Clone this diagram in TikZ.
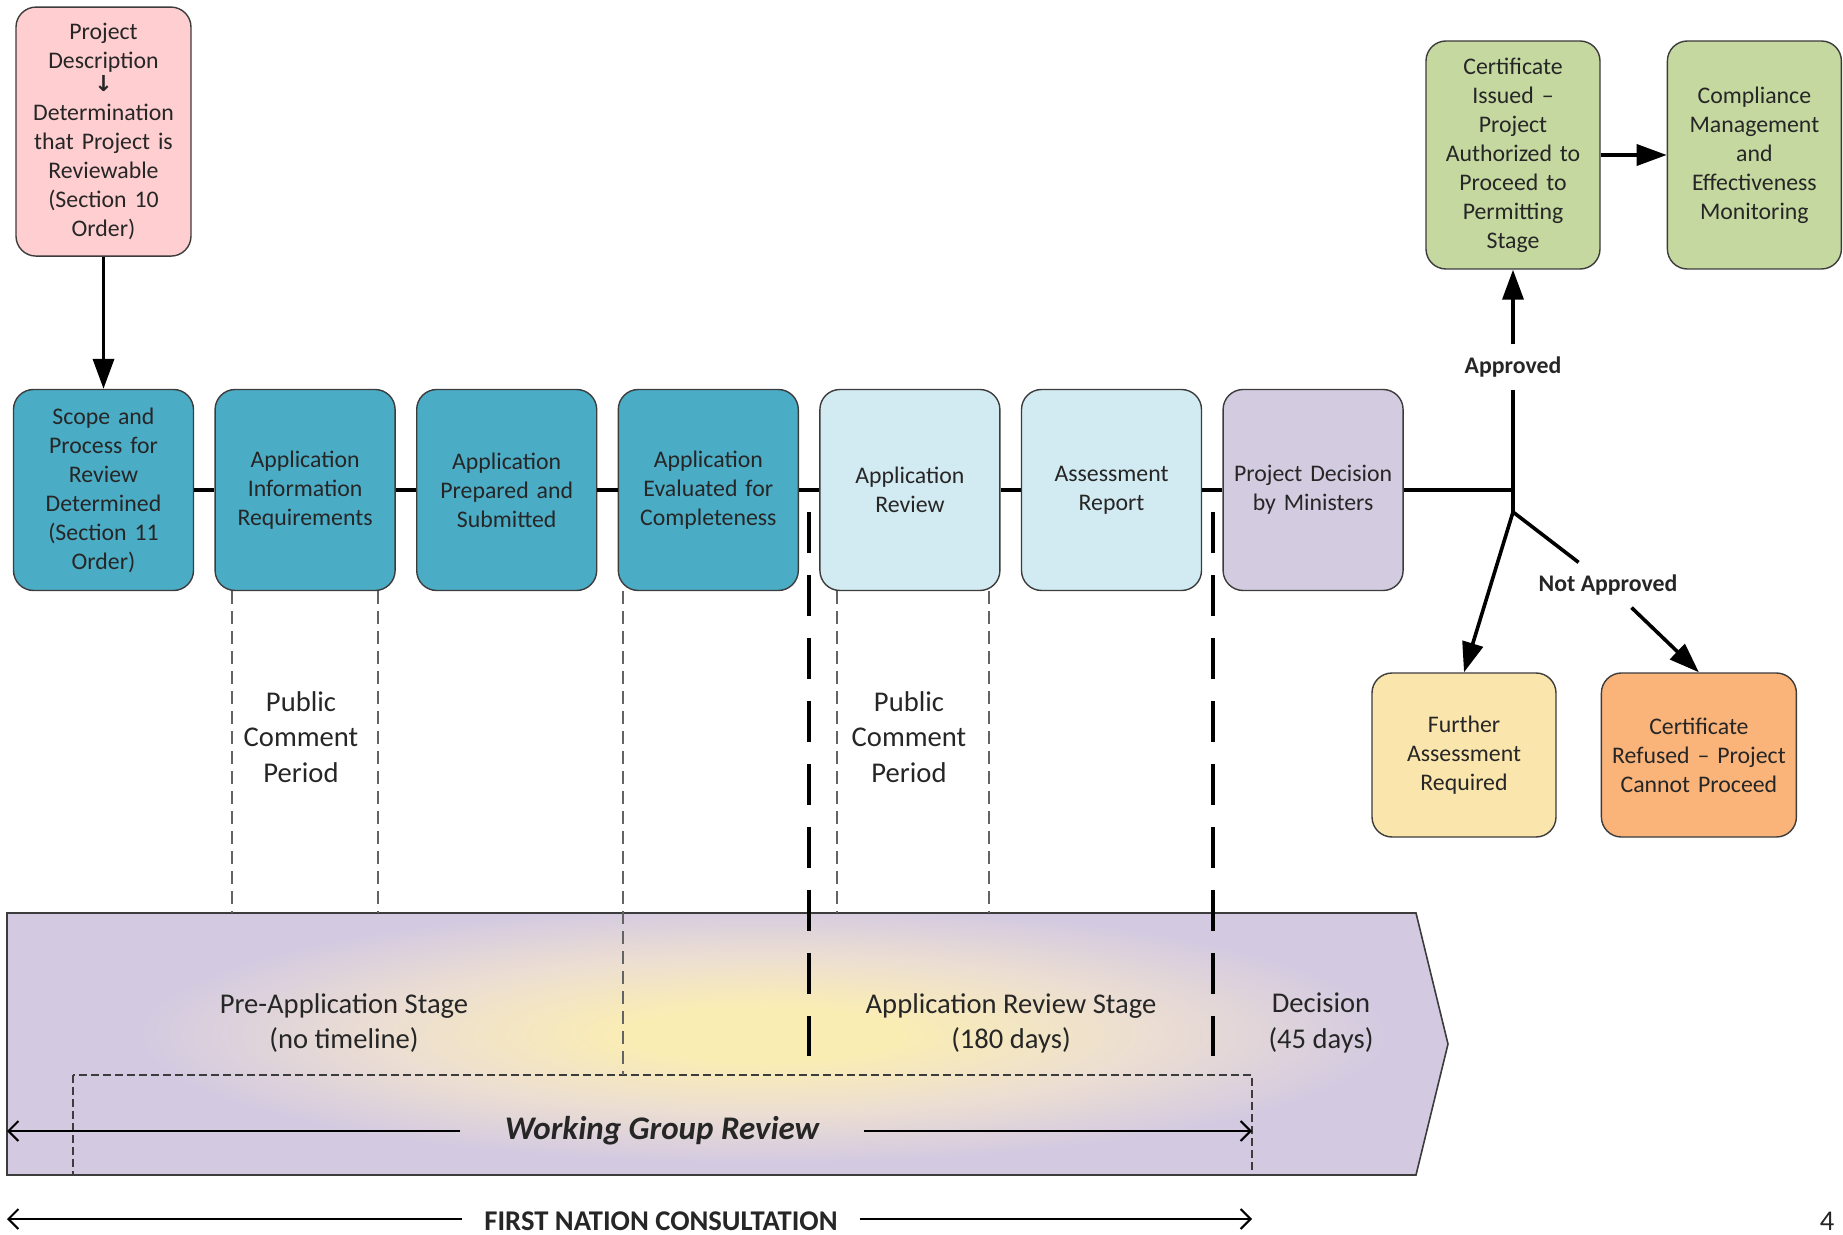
\documentclass[tikz,border=0pt]{standalone}
\usepackage{fontspec}
\setmainfont{Carlito}
\newfontfamily\arrowfont{DejaVu Sans}
\usetikzlibrary{
  arrows.meta,
  positioning
}
\definecolor{mypink}{RGB}{255,206,208}
\definecolor{myteal}{RGB}{75,172,198}
\definecolor{mylightblue}{RGB}{210,234,241}
\definecolor{mylavender}{RGB}{211,203,224}
\definecolor{mygreen}{RGB}{197,216,160}
\definecolor{myyellow}{RGB}{250,230,172}
\definecolor{myorange}{RGB}{250,180,122}
\definecolor{myband}{RGB}{211,202,225}
\definecolor{myglowcore}{RGB}{250,237,180}
\definecolor{myglowmid}{RGB}{236,222,210}
\definecolor{myline}{RGB}{60,60,60}
\definecolor{mytext}{RGB}{38,38,38}
\pgfdeclareradialshading{myglow}{\pgfpointorigin}{%
  color(0bp)=(myglowcore); color(5bp)=(myglowcore);
  color(14bp)=(myglowmid); color(23bp)=(myband); color(50bp)=(myband)}

\begin{document}
\begin{tikzpicture}[
  x=0.5pt,y=-0.5pt,
  mybox/.style={
    draw=myline,
    line width=0.7pt,
    rounded corners=10pt,
    fill=#1,
    align=center,
    text=mytext,
    font=\fontsize{11.9}{14.5}\selectfont,
    inner xsep=4pt,
    text width=82pt,
    minimum height=100.5pt
    },
  mylabel/.style={
    font=\bfseries\fontsize{11.9}{14}\selectfont,
    text=mytext,
    inner xsep=2pt,
    inner ysep=6pt
    },
  mystage/.style={
    align=center,
    text=mytext,
    font=\fontsize{14.3}{17.6}\selectfont
    },
  myconn/.style={line width=1.8pt},
  myarrow/.style={myconn,-{Triangle[length=15pt,width=10.5pt]}},
  myspan/.style={line width=1pt,-{Straight Barb[length=5pt,width=10pt]}},
  mythin/.style={draw=myline!80,line width=0.6pt,dash pattern=on 6.5pt off 3.5pt},
  mydivider/.style={line width=2pt,dash pattern=on 20.5pt off 11pt}
]
\useasboundingbox (0,0) rectangle (1843,1235);

% stage band
\begin{scope}
  \clip (7,913) -- (1416,913) -- (1448,1044) -- (1416,1175) -- (7,1175) -- cycle;
  \fill[myband] (0,900) rectangle (1460,1190);
  \shade[shading=myglow] (84,894) rectangle (1444,1174);
\end{scope}
\draw[myline,line width=0.8pt]
  (7,913) -- (1416,913) -- (1448,1044) -- (1416,1175) -- (7,1175) -- cycle;
\draw[myline,line width=0.8pt,dash pattern=on 4pt off 2pt] (73,1075) rectangle (1252,1175);

% process row
\node[mybox=myteal] (scope) at (103.5,490)
  {Scope and\\Process for\\Review\\Determined\\(Section 11\\Order)};
\node[mybox=myteal,right=10.1pt of scope] (info)
  {Application\\Information\\Requirements};
\node[mybox=myteal,right=10.1pt of info] (prep)
  {Application\\Prepared and\\Submitted};
\node[mybox=myteal,right=10.1pt of prep] (eval)
  {Application\\Evaluated for\\Completeness};
\node[mybox=mylightblue,right=10.1pt of eval] (review)
  {Application\\Review};
\node[mybox=mylightblue,right=10.1pt of review] (report)
  {Assessment\\Report};
\node[mybox=mylavender,right=10.1pt of report] (decision)
  {Project Decision\\by Ministers};

\node[mybox=mypink,text width=79.5pt,minimum height=124.5pt,above=66pt of scope] (desc)
  {Project\\Description\\[-3pt]{\arrowfont\bfseries\fontsize{11}{11}\selectfont ↓}\\Determination\\that Project is\\Reviewable\\(Section 10\\Order)};

% outcomes
\node[mybox=mygreen,text width=79pt,minimum height=114pt] (cert) at (1513,155)
  {Certificate\\Issued –\\Project\\Authorized to\\Proceed to\\Permitting\\Stage};
\node[mybox=mygreen,text width=79pt,minimum height=114pt,right=33pt of cert] (compl)
  {Compliance\\Management\\and\\Effectiveness\\Monitoring};
\node[mybox=myyellow,text width=84pt,minimum height=82pt] (further) at (1464,755)
  {Further\\Assessment\\Required};
\node[mybox=myorange,text width=89.5pt,minimum height=82pt,right=22pt of further] (refused)
  {Certificate\\Refused – Project\\Cannot Proceed};

\coordinate (jct) at (1513,490);
\coordinate (jct2) at (1513,512);
\node[mylabel] (appr) at (1513,367) {Approved};
\node[mylabel] (notappr) at (1608,585) {Not Approved};

% connectors
\draw[myarrow] (desc) -- (scope);
\draw[myconn] (scope) -- (info) -- (prep) -- (eval) -- (review) -- (report) -- (decision) -- (jct) -- (jct2);
\draw[myconn] (jct) -- (appr);
\draw[myarrow] (appr) -- (cert);
\draw[myarrow] (cert) -- (compl);
\draw[myarrow] (jct2) -- (further.north);
\draw[myconn] (jct2) -- (notappr);
\draw[myarrow] (notappr) -- (refused.north);

% comment periods and stage limits
\foreach \x in {232,378,837,989}
  \draw[mythin] (\x,591) -- (\x,913);
\draw[mythin] (623,591) -- (623,1075);
\foreach \x in {809,1213}
  \draw[mydivider] (\x,512) -- (\x,1056);

\node[mystage] (pcp1) at (301,737) {Public\\Comment\\Period};
\node[mystage] (pcp2) at (909,737) {Public\\Comment\\Period};

\node[mystage] (preapp) at (344,1023) {Pre-Application Stage\\(no timeline)};
\node[mystage] (appstage) at (1011,1023) {Application Review Stage\\(180 days)};
\node[mystage] (decstage) at (1321,1023) {Decision\\(45 days)};

% spans
\node[mystage,font=\bfseries\itshape\fontsize{16.5}{20}\selectfont,inner xsep=22pt] (wgr) at (662,1131)
  {Working Group Review};
\coordinate (wgrL) at (7,1131);
\coordinate (wgrR) at (1252,1131);
\draw[myspan] (wgr) -- (wgrL);
\draw[myspan] (wgr) -- (wgrR);

\node[mystage,font=\bfseries\fontsize{14.3}{17.6}\selectfont,inner xsep=11pt,inner ysep=1pt] (fnc) at (661,1221)
  {FIRST NATION CONSULTATION};
\coordinate (fncL) at (7,1219);
\coordinate (fncR) at (1252,1219);
\draw[myspan] (fnc.west |- fncL) -- (fncL);
\draw[myspan] (fnc.east |- fncR) -- (fncR);

\node[mystage,inner ysep=1pt] (pagenum) at (1827,1221) {4};
\end{tikzpicture}
\end{document}
